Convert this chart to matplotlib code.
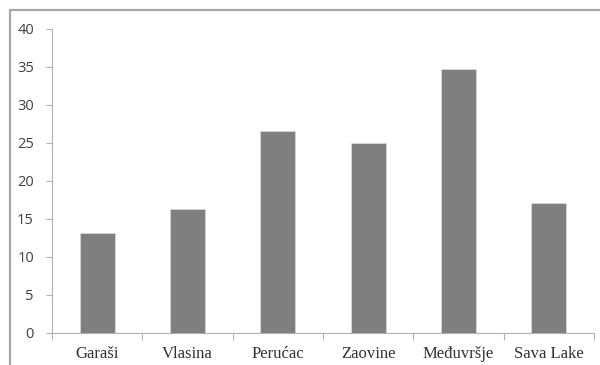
import matplotlib
matplotlib.use('Agg')
import matplotlib.pyplot as plt
from matplotlib.patches import Rectangle
import numpy as np

lakes = ['Garaši', 'Vlasina', 'Perućac', 'Zaovine', 'Međuvršje', 'Sava Lake']
values = [13.1, 16.3, 26.6, 25.0, 34.7, 17.1]
yticks = [0, 5, 10, 15, 20, 25, 30, 35, 40]

fig = plt.figure(figsize=(6, 3.65), dpi=100)
ax = fig.add_axes([52/600, 1-333/365, 542/600, 304/365])

x = np.arange(len(lakes))
ax.bar(x, values, width=0.39, color='#7f7f81', edgecolor='#d8d8d8', linewidth=0.6)

ax.set_xlim(-0.5, len(lakes)-0.5)
ax.set_ylim(0, 40)
ax.set_yticks(yticks)
ax.set_yticklabels([str(v) for v in yticks], fontsize=10.5, family='Open Sans', color='#404040')

# category labels in the middle, ticks between categories
ax.set_xticks(x)
ax.set_xticklabels(lakes, fontsize=12, family='Liberation Serif', color='#303030')
ax.tick_params(axis='x', length=0, pad=9)
ax.set_xticks(np.arange(-0.5, len(lakes), 1.0), minor=True)
ax.tick_params(axis='x', which='minor', length=5, color='#b0b0b0', width=0.8)
ax.tick_params(axis='y', length=4, color='#b0b0b0', width=0.8, pad=9)

for s in ['top', 'right']:
    ax.spines[s].set_visible(False)
for s in ['left', 'bottom']:
    ax.spines[s].set_color('#b0b0b0')
    ax.spines[s].set_linewidth(0.8)

# outer chart frame
fig.patches.append(Rectangle((10/600, -0.1), 1.0, 1.1-10/365, transform=fig.transFigure,
                             fill=False, edgecolor='#a8a8a8', linewidth=1.6))

fig.savefig('out.png', dpi=100, facecolor='white')
